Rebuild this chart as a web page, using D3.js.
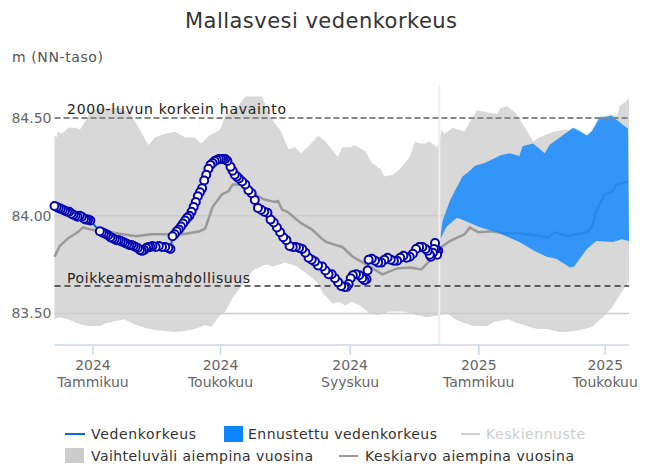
<!DOCTYPE html>
<html><head><meta charset="utf-8"><title>Mallasvesi vedenkorkeus</title>
<script src="https://d3js.org/d3.v7.min.js"></script>
<style>
    body { margin: 0; background: #fff; font-family: 'DejaVu Sans', sans-serif; }
    svg { display: block; }
    .tick text { fill: #666; }
</style>
</head>
<body>
<svg id="chart" width="650" height="467"></svg>
<script>
// values are [days since 1 Jan 2024, level in metres]
const rangeHigh = [[-36,84.41],[-34,84.40],[-33,84.43],[-29,84.42],[-23,84.45],[-16,84.45],[-12,84.44],[-7,84.48],[-2,84.53],[7,84.55],[17,84.55],[28,84.55],[36,84.52],[45,84.44],[53,84.36],[59,84.40],[69,84.42],[78,84.43],[88,84.40],[97,84.40],[103,84.37],[111,84.41],[121,84.44],[126,84.51],[135,84.54],[145,84.61],[154,84.61],[161,84.61],[168,84.51],[178,84.44],[186,84.34],[192,84.35],[198,84.32],[206,84.36],[214,84.41],[221,84.38],[230,84.32],[233,84.30],[237,84.35],[244,84.35],[249,84.36],[259,84.33],[265,84.27],[273,84.24],[277,84.20],[285,84.21],[292,84.24],[301,84.30],[306,84.38],[311,84.37],[315,84.37],[320,84.38],[327,84.35],[330,84.40],[331,84.44],[334,84.42],[342,84.45],[353,84.43],[358,84.48],[365,84.54],[374,84.53],[384,84.52],[387,84.55],[393,84.56],[401,84.53],[408,84.47],[418,84.38],[424,84.40],[437,84.43],[448,84.44],[456,84.44],[469,84.41],[472,84.42],[481,84.48],[491,84.52],[498,84.51],[500,84.56],[505,84.58],[509,84.60]];
const rangeLow = [[-36,83.47],[-31,83.48],[-23,83.47],[-12,83.445],[-4,83.435],[7,83.435],[12,83.45],[22,83.46],[30,83.47],[40,83.445],[50,83.425],[59,83.415],[69,83.41],[78,83.405],[88,83.41],[97,83.42],[107,83.44],[113,83.43],[119,83.48],[126,83.51],[133,83.58],[140,83.63],[152,83.72],[165,83.75],[171,83.74],[183,83.76],[194,83.74],[204,83.70],[213,83.66],[219,83.60],[228,83.55],[233,83.56],[240,83.54],[246,83.56],[254,83.54],[263,83.50],[271,83.49],[282,83.51],[295,83.51],[308,83.49],[317,83.48],[329,83.49],[337,83.50],[344,83.47],[351,83.455],[361,83.435],[375,83.435],[380,83.455],[394,83.47],[401,83.455],[415,83.43],[422,83.42],[431,83.42],[443,83.405],[450,83.405],[462,83.415],[474,83.43],[484,83.48],[493,83.53],[502,83.61],[509,83.665]];
const pastMean = [[-36,83.79],[-31,83.845],[-23,83.885],[-14,83.915],[-9,83.94],[-2,83.93],[7,83.92],[17,83.915],[29,83.905],[42,83.895],[55,83.905],[67,83.905],[86,83.905],[102,83.92],[107,83.935],[114,84.045],[123,84.11],[129,84.125],[133,84.16],[142,84.16],[154,84.11],[162,84.085],[173,84.07],[176,84.075],[180,84.03],[185,84.02],[197,83.965],[208,83.93],[218,83.88],[222,83.865],[237,83.84],[247,83.79],[260,83.75],[275,83.70],[289,83.73],[301,83.735],[312,83.725],[322,83.78],[328,83.79],[331,83.84],[339,83.87],[347,83.89],[353,83.905],[358,83.94],[366,83.915],[379,83.92],[389,83.91],[405,83.91],[418,83.90],[432,83.89],[439,83.915],[451,83.895],[469,83.915],[474,83.945],[478,84.025],[486,84.11],[493,84.12],[497,84.16],[508,84.175]];
const forecastHigh = [[330,83.88],[332,83.97],[339,84.075],[346,84.15],[351,84.20],[358,84.23],[363,84.255],[372,84.27],[380,84.29],[387,84.31],[396,84.32],[405,84.305],[408,84.355],[418,84.37],[429,84.32],[434,84.365],[446,84.41],[456,84.45],[462,84.435],[469,84.41],[474,84.435],[481,84.505],[493,84.51],[500,84.48],[508,84.445]];
const forecastLow = [[330,83.88],[336,83.945],[346,83.99],[355,83.97],[368,83.94],[384,83.915],[405,83.865],[419,83.82],[431,83.79],[440,83.78],[453,83.735],[457,83.74],[469,83.83],[478,83.87],[494,83.865],[502,83.88],[509,83.87]];
const observed = [[-36,84.05],[-34,84.045],[-32,84.04],[-30,84.035],[-28,84.03],[-26,84.025],[-24,84.02],[-22,84.02],[-20,84.01],[-18,84.005],[-16,84.00],[-14,83.995],[-12,84.00],[-10,83.995],[-8,83.985],[-6,83.98],[-4,83.98],[-2,83.975],
[7,83.92],[9,83.915],[11,83.91],[13,83.905],[15,83.90],[17,83.89],[19,83.885],[21,83.88],[23,83.875],[25,83.875],[27,83.87],[29,83.865],[31,83.86],[33,83.855],[35,83.85],[37,83.85],[39,83.845],[41,83.84],[43,83.835],[45,83.825],[47,83.82],[49,83.825],[51,83.835],[53,83.84],[55,83.84],[57,83.845],[60,83.84],[63,83.845],[66,83.84],[69,83.84],[72,83.835],[74,83.83],
[76,83.895],[78,83.905],[80,83.92],[82,83.93],[84,83.945],[86,83.96],[88,83.975],[90,83.99],[92,84.00],[94,84.02],[96,84.045],[98,84.07],[100,84.10],[102,84.12],[104,84.14],[106,84.18],[108,84.21],[110,84.24],[112,84.26],[114,84.27],[116,84.28],[118,84.285],[120,84.29],[122,84.29],[124,84.29],[126,84.29],[128,84.28],[131,84.25],[133,84.23],[135,84.21],[137,84.20],[139,84.19],[142,84.175],[145,84.16],[148,84.13],[151,84.115],[154,84.08],[157,84.04],[160,84.03],[163,84.02],[166,84.015],[169,83.98],[172,83.965],[175,83.94],[178,83.915],[181,83.89],[184,83.875],[187,83.845],[190,83.84],[193,83.84],[196,83.835],[199,83.83],[202,83.81],[205,83.785],[208,83.775],[211,83.765],[214,83.745],[218,83.74],[221,83.72],[224,83.70],[227,83.70],[230,83.68],[233,83.66],[236,83.64],[239,83.635],[241,83.635],
[243,83.65],[245,83.68],[247,83.695],[250,83.70],[253,83.695],[256,83.68],[258,83.67],[260,83.675],[261,83.72],[262,83.775],[265,83.78],[268,83.77],[271,83.76],[274,83.76],[277,83.775],[280,83.785],[283,83.775],[286,83.77],[289,83.77],[292,83.785],[295,83.795],[298,83.785],[301,83.79],[304,83.805],[307,83.83],[310,83.84],[313,83.84],[316,83.83],[318,83.82],[320,83.80],[321,83.79],[323,83.81],[324,83.83],[325,83.86],[326,83.83],[327,83.80],[328,83.82]];

const yTicks = [83.5, 84, 84.5];
const xTickDays = [0, 121, 244, 366, 486];
const xTickYears = ["2024", "2024", "2024", "2025", "2025"];
const xTickMonths = ["Tammikuu", "Toukokuu", "Syyskuu", "Tammikuu", "Toukokuu"];
const highestObserved = 84.5;
const deviationLimit = 83.64;
const forecastStart = 329;

const svg = d3.select("#chart");
const x = d3.scaleLinear().domain([-36, 509]).range([54.5, 629]);
const y = d3.scaleLinear().domain([83.5, 84.5]).range([313.4, 118]);
const bottom = 345;

const line = d3.line().x(d => x(d[0])).y(d => y(d[1]));

function bandPath(high, low) {
    return line(high) + "L" + line(low.slice().reverse()).slice(1) + "Z";
}

// grey range of earlier years
svg.append("path").attr("d", bandPath(rangeHigh, rangeLow)).attr("fill", "#d8d8d8");

// grid
svg.selectAll(".grid").data([83.5, 84]).enter().append("line")
    .attr("x1", 54.5).attr("x2", 629)
    .attr("y1", d => y(d)).attr("y2", d => y(d))
    .attr("stroke", "#cccccc").attr("stroke-width", 1.5);

svg.append("path").attr("d", line(pastMean))
    .attr("fill", "none").attr("stroke", "#999").attr("stroke-width", 2.5);

svg.append("path").attr("d", bandPath(forecastHigh, forecastLow))
    .attr("fill", "#0a84ff").attr("fill-opacity", 0.8);

// start of forecast
svg.append("line").attr("x1", x(forecastStart)).attr("x2", x(forecastStart))
    .attr("y1", 85).attr("y2", bottom).attr("stroke", "#eeeeee").attr("stroke-width", 2);

// reference lines
svg.append("line").attr("x1", 54.5).attr("x2", 629)
    .attr("y1", y(highestObserved)).attr("y2", y(highestObserved))
    .attr("stroke", "#888").attr("stroke-width", 2).attr("stroke-dasharray", "6,3");
svg.append("line").attr("x1", 54.5).attr("x2", 629)
    .attr("y1", y(deviationLimit)).attr("y2", y(deviationLimit))
    .attr("stroke", "#333").attr("stroke-width", 1.5).attr("stroke-dasharray", "6,4");

svg.append("path").attr("d", line(observed))
    .attr("fill", "none").attr("stroke", "#0a66e8").attr("stroke-width", 2);

// earliest points end up on top
svg.selectAll(".obs").data(observed.slice().reverse()).enter().append("circle")
    .attr("cx", d => x(d[0])).attr("cy", d => y(d[1])).attr("r", 4)
    .attr("fill", "#fff").attr("stroke", "#0505b0").attr("stroke-width", 2);

// axes
const yAxis = svg.append("g").attr("transform", "translate(54.5,0)")
    .call(d3.axisLeft(y).tickValues(yTicks).tickSize(0).tickPadding(3).tickFormat(d3.format(".2f")));
yAxis.select(".domain").remove();
yAxis.selectAll("text").attr("font-size", 14).attr("font-family", "'DejaVu Sans', sans-serif");

const xAxis = svg.append("g").attr("transform", `translate(0,${bottom})`)
    .call(d3.axisBottom(x).tickValues(xTickDays).tickSize(10).tickFormat(""));
xAxis.select(".domain").attr("stroke", "#ccd6eb").attr("stroke-width", 1.5).attr("d", "M54.5,0H629");
xAxis.selectAll(".tick line").attr("stroke", "#ccd6eb").attr("stroke-width", 1.5);
xAxis.selectAll(".tick text").each(function(d, i) {
    const t = d3.select(this).attr("y", 0).attr("dy", 0).attr("font-size", 14)
        .attr("font-family", "'DejaVu Sans', sans-serif").attr("fill", "#666");
    t.append("tspan").attr("x", 0).attr("y", 25).text(xTickYears[i]);
    t.append("tspan").attr("x", 0).attr("y", 42).text(xTickMonths[i]);
});

// titles and labels, width is the length the text takes in the picture
const label = (px, py, text, size, fill, width, anchor) => svg.append("text")
    .attr("x", px).attr("y", py).attr("font-size", size).attr("fill", fill)
    .attr("text-anchor", anchor || "start")
    .attr("textLength", width).attr("lengthAdjust", "spacing").text(text);

label(321, 28, "Mallasvesi vedenkorkeus", 21, "#333", 272, "middle");
label(12, 62, "m (NN-taso)", 14, "#555", 91);
label(67, 114, "2000-luvun korkein havainto", 14, "#222", 219);
label(67, 283, "Poikkeamismahdollisuus", 14, "#222", 183);

// legend
svg.append("line").attr("x1", 65).attr("x2", 85).attr("y1", 434).attr("y2", 434)
    .attr("stroke", "#0a66e8").attr("stroke-width", 2);
label(91, 439, "Vedenkorkeus", 14, "#333", 105);
svg.append("rect").attr("x", 224).attr("y", 426).attr("width", 19).attr("height", 16).attr("fill", "#0a84ff");
label(248, 439, "Ennustettu vedenkorkeus", 14, "#333", 189);
svg.append("line").attr("x1", 461).attr("x2", 480).attr("y1", 434).attr("y2", 434)
    .attr("stroke", "#ccc").attr("stroke-width", 2);
label(486, 439, "Keskiennuste", 14, "#ccc", 99);
svg.append("rect").attr("x", 65).attr("y", 448).attr("width", 19).attr("height", 15).attr("fill", "#ccc");
label(91, 461, "Vaihteluväli aiempina vuosina", 14, "#333", 222);
svg.append("line").attr("x1", 339).attr("x2", 358).attr("y1", 456).attr("y2", 456)
    .attr("stroke", "#999").attr("stroke-width", 2);
label(365, 461, "Keskiarvo aiempina vuosina", 14, "#333", 209);
</script>
</body>
</html>
